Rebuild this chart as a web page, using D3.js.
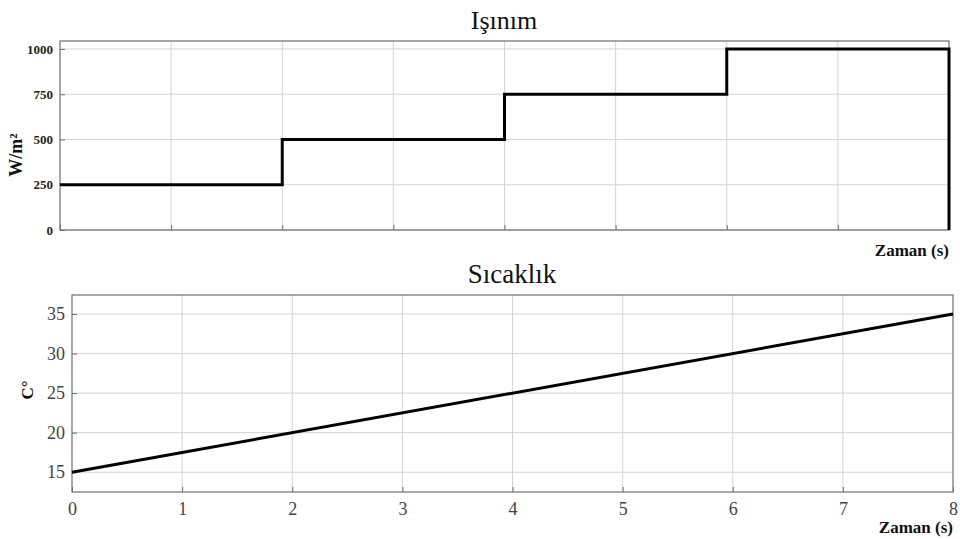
<!DOCTYPE html>
<html>
<head>
<meta charset="utf-8">
<script src="https://cdn.jsdelivr.net/npm/d3@7"></script>
<style>
  html, body { margin: 0; padding: 0; background: #fff; }
  svg { display: block; font-family: "Liberation Serif", "Times New Roman", serif; }
</style>
</head>
<body>
<svg id="chart" width="960" height="539"></svg>
<script>
// Irradiance step profile (time in s, W/m²)
const irrTime  = [0, 2, 2, 4, 4, 6, 6, 8, 8];
const irrValue = [250, 250, 500, 500, 750, 750, 1000, 1000, 0];
const irrTicks = [0, 250, 500, 750, 1000];

// Temperature ramp (time in s, °C)
const tempTime  = [0, 8];
const tempValue = [15, 35];
const tempTicks = [15, 20, 25, 30, 35];

const timeTicks = [0, 1, 2, 3, 4, 5, 6, 7, 8];

const svg = d3.select("#chart");
const frameColor = "#6e6e6e";
const gridColor = "#d4d4d4";
const serif = "Liberation Serif, Times New Roman, serif";

function panel(opts) {
  const { left, right, top, bottom, yDomain, yTicks, xs, ys, showXLabels,
          title, titleX, titleY, titleSize, yLabel, yLabelX, yLabelY, yLabelSize,
          tickFont, tickWeight, tickColor, xLabelY } = opts;
  const x = d3.scaleLinear().domain([0, 8]).range([left, right]);
  const y = d3.scaleLinear().domain(yDomain).range([bottom, top]);
  const g = svg.append("g");

  // grid
  g.selectAll(".vg").data(timeTicks.slice(1, -1)).join("line")
    .attr("x1", d => x(d)).attr("x2", d => x(d))
    .attr("y1", top).attr("y2", bottom)
    .attr("stroke", gridColor).attr("stroke-width", 1);
  g.selectAll(".hg").data(yTicks).join("line")
    .attr("x1", left).attr("x2", right)
    .attr("y1", d => y(d)).attr("y2", d => y(d))
    .attr("stroke", gridColor).attr("stroke-width", 1);

  // axes
  const yAxis = d3.axisLeft(y).tickValues(yTicks).tickSize(-5).tickPadding(7)
    .tickFormat(d3.format("d"));
  const ya = g.append("g").attr("transform", `translate(${left},0)`).call(yAxis);
  ya.attr("font-family", serif);
  ya.select(".domain").remove();
  ya.selectAll(".tick line").attr("stroke", frameColor);
  ya.selectAll(".tick text")
    .attr("font-size", tickFont)
    .attr("font-weight", tickWeight).attr("fill", tickColor);

  const xAxis = d3.axisBottom(x).tickValues(timeTicks).tickSize(-5).tickPadding(10)
    .tickFormat(showXLabels ? d3.format("d") : () => "");
  const xa = g.append("g").attr("transform", `translate(0,${bottom})`).call(xAxis);
  xa.attr("font-family", serif);
  xa.select(".domain").remove();
  xa.selectAll(".tick line").attr("stroke", frameColor);
  xa.selectAll(".tick text")
    .attr("font-size", tickFont)
    .attr("fill", tickColor);

  // frame
  g.append("rect").attr("x", left).attr("y", top)
    .attr("width", right - left).attr("height", bottom - top)
    .attr("fill", "none").attr("stroke", frameColor).attr("stroke-width", 1.2);

  // data line
  const pts = xs.map((t, i) => [t, ys[i]]);
  g.append("path").datum(pts)
    .attr("d", d3.line().x(d => x(d[0])).y(d => y(d[1])))
    .attr("fill", "none").attr("stroke", "#000").attr("stroke-width", 3)
    .attr("stroke-linejoin", "miter");

  // title
  svg.append("text").attr("x", titleX).attr("y", titleY)
    .attr("text-anchor", "middle").attr("font-size", titleSize).attr("fill", "#111")
    .text(title);

  // y label
  svg.append("text")
    .attr("transform", `translate(${yLabelX},${yLabelY}) rotate(-90)`)
    .attr("text-anchor", "middle").attr("font-size", yLabelSize).attr("font-weight", "bold")
    .attr("fill", "#111").text(yLabel);

  // x label
  svg.append("text").attr("x", right).attr("y", xLabelY)
    .attr("text-anchor", "end").attr("font-size", 17).attr("font-weight", "bold")
    .attr("fill", "#111").text("Zaman (s)");
}

panel({
  left: 60, right: 949, top: 41, bottom: 230,
  yDomain: [0, 1044], yTicks: irrTicks,
  xs: irrTime, ys: irrValue, showXLabels: false,
  title: "Işınım", titleX: 504, titleY: 29, titleSize: 26,
  yLabel: "W/m²", yLabelX: 22, yLabelY: 155, yLabelSize: 18,
  tickFont: 13, tickWeight: "bold", tickColor: "#222", xLabelY: 256
});

panel({
  left: 72, right: 953, top: 295, bottom: 492,
  yDomain: [12.5, 37.4], yTicks: tempTicks,
  xs: tempTime, ys: tempValue, showXLabels: true,
  title: "Sıcaklık", titleX: 512, titleY: 283, titleSize: 27,
  yLabel: "C°", yLabelX: 33, yLabelY: 390, yLabelSize: 17,
  tickFont: 18, tickWeight: "normal", tickColor: "#444", xLabelY: 533
});
</script>
</body>
</html>
